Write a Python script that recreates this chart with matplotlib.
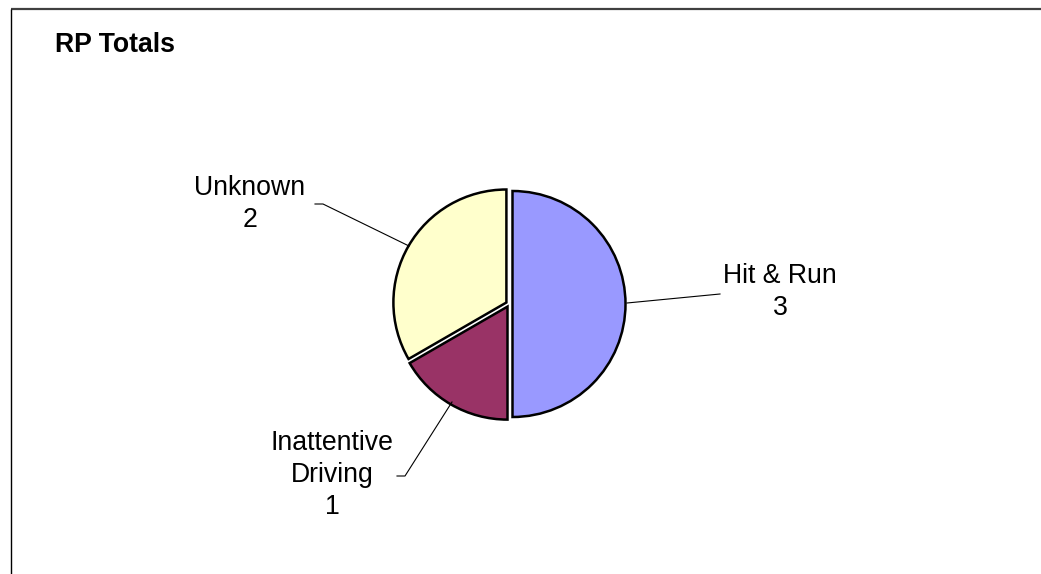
import matplotlib
matplotlib.use("Agg")
import matplotlib.pyplot as plt

plt.rcParams["font.family"] = ["Liberation Sans", "DejaVu Sans"]

labels = ["Hit & Run", "Inattentive\nDriving", "Unknown"]
values = [3, 1, 2]
colors = ["#9999FF", "#993366", "#FFFFCC"]

W, H = 1041, 574
fig = plt.figure(figsize=(W / 100, H / 100), dpi=100)
ax = fig.add_axes([0, 0, 1, 1])
ax.set_xlim(0, W)
ax.set_ylim(0, H)
ax.set_aspect("equal")
ax.axis("off")

cx, cy, r = 509, H - 304, 113
# explode is in data units (pixels here)
ax.pie(values, colors=colors, startangle=90, counterclock=False,
       center=(cx, cy), radius=r, explode=[3.5, 3, 3],
       wedgeprops=dict(edgecolor="black", linewidth=1.8))
ax.set_xlim(0, W)
ax.set_ylim(0, H)

# leader lines (pixel coords, y measured from top)
leaders = [
    [(627, 303), (720, 294)],
    [(452, 402), (405, 476), (397, 476)],
    [(409, 246), (323, 204), (315, 204)],
]
for pts in leaders:
    ax.plot([p[0] for p in pts], [H - p[1] for p in pts], color="black", lw=0.8)

label_pos = [(780, 292), (332, 475), (250, 204)]
for lab, v, (x, y) in zip(labels, values, label_pos):
    ax.text(x, H - y, f"{lab}\n{v}", ha="center", va="center", fontsize=19.2,
            linespacing=1.3)

ax.text(55, H - 52, "RP Totals", fontsize=19.2, fontweight="bold", va="baseline")

# frame
ax.plot([11, W], [H - 9, H - 9], color="#404040", lw=1.6, solid_capstyle="butt")
ax.plot([11, 11], [H - 9, 0], color="black", lw=1.0, solid_capstyle="butt")

fig.savefig("out.png", dpi=100)
